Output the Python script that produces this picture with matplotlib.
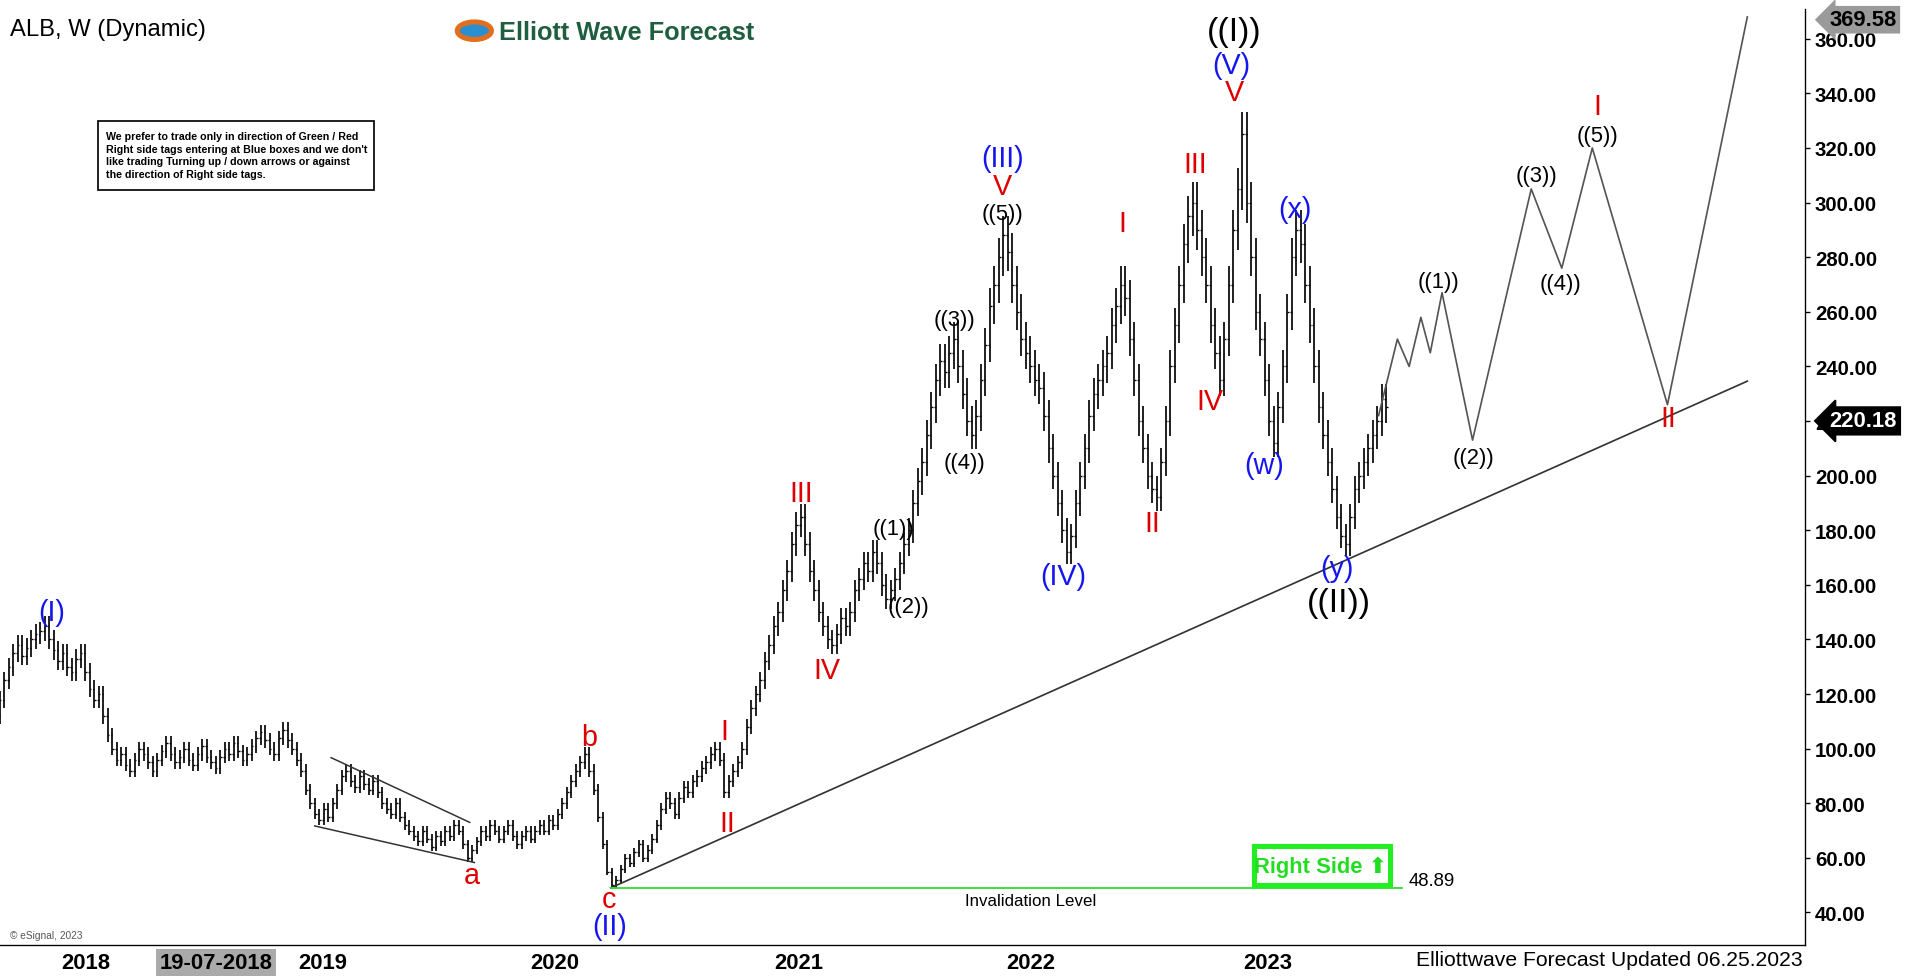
import matplotlib
matplotlib.use('Agg')
import matplotlib.pyplot as plt
from matplotlib.patches import Circle, Rectangle
import numpy as np

plt.rcParams['font.family'] = ['Liberation Sans', 'DejaVu Sans']

# weekly closes, ALB, from Aug 2017
closes = [112, 118, 125, 130, 135, 138, 134, 137, 140, 142, 143,
          145, 140, 136, 132, 135, 130, 128, 133, 135,
          128, 122, 118, 120, 112, 105, 100, 96,
          98, 94, 92, 96, 100, 98, 95, 92, 96, 99, 102, 98, 95,
          97, 100, 96, 94, 98, 101, 97, 95, 93, 97, 100, 98, 102, 99, 96,
          98, 101, 104, 106, 103, 100, 98, 104, 107, 103, 100, 96,
          92, 85, 80, 76, 74, 78, 75, 80,
          85, 90, 92, 88, 86, 90, 87, 85, 88,
          84, 80, 78, 76, 80, 75, 72, 70, 68, 66, 70,
          67, 64, 68, 66, 70, 68, 72, 70, 65, 60, 63,
          66, 70, 68, 72, 70, 67, 70, 72, 68, 65, 68, 70, 67, 70,
          72, 70, 74, 72, 76, 80, 84, 88, 92, 95,
          98, 92, 85, 75, 65, 55, 50,
          52, 56, 60, 58, 62, 65, 60, 63,
          67, 72, 78, 82, 80, 76, 82, 86, 84, 88, 90, 93, 95,
          98, 100, 96, 84, 88,
          92, 95, 100, 108, 115, 120, 125, 132, 138, 145, 150, 158,
          165, 175, 182, 185, 175,
          165, 158, 150, 145, 140, 138, 142, 148, 145, 150,
          158, 162, 168, 165, 172, 168, 160, 155, 158,
          162, 168, 175, 180, 190, 198, 205, 215,
          225, 235, 242, 238, 245, 250, 240, 230, 220,
          215, 222, 235, 248, 262, 270, 280,
          288, 282, 270, 260, 250, 245, 240, 235,
          232, 222, 210, 200, 190, 180, 172,
          178, 190, 200, 210, 222, 230, 235,
          240, 245, 255, 262, 270, 265,
          250, 235, 220, 210, 200, 195, 192,
          205, 220, 240, 255, 270, 285, 295, 300,
          290, 280, 270, 255, 245, 235,
          250, 270, 290, 305, 325,
          300, 280, 260, 250, 235, 220, 212,
          225, 240, 260, 280, 290, 285,
          270, 255, 240, 225, 215, 205, 195, 185, 178, 175,
          185, 195, 200, 205, 210, 215, 220, 228, 225]

# projected path (fractional year, price)
proj_x = [2023.47, 2023.55, 2023.60, 2023.65, 2023.69, 2023.74, 2023.87, 2024.12, 2024.25, 2024.38, 2024.70, 2025.04]
proj_y = [222, 250, 240, 258, 245, 267, 213, 305, 276, 320, 226, 368]

trend_x = [2020.20, 2025.04]
trend_y = [49, 234.6]
inval_level = 48.89
tri_upper = ([2019.01, 2019.60], [96.7, 73])
tri_lower = ([2018.94, 2019.62], [71.7, 58.3])

# drawn on a 1568 x 804.5 layout grid, saved at 1912 x 981
W, H = 1568, 804.5
fig = plt.figure(figsize=(W / 100, H / 100), dpi=100)
ax = fig.add_axes([0, (H - 776) / H, 1480 / W, (776 - 8) / H])

n = len(closes)
xs = 2017.58 + np.arange(n) / 52.18
c = np.array(closes, float)
o = np.concatenate([[c[0]], c[:-1]])
hi = np.maximum(o, c) * 1.025
lo = np.minimum(o, c) * 0.975
ax.vlines(xs, lo, hi, color='black', lw=1.0)
ax.hlines(c, xs, xs + 0.007, color='black', lw=0.8)
ax.hlines(o, xs - 0.007, xs, color='black', lw=0.8)

ax.plot(proj_x, proj_y, color='#555555', lw=1.0)
ax.plot(trend_x, trend_y, color='#333333', lw=1.0)
ax.plot(*tri_upper, color='#333333', lw=0.9)
ax.plot(*tri_lower, color='#333333', lw=0.9)
ax.plot([2020.2, 2023.57], [inval_level] * 2, color='#33dd33', lw=1.1)
ax.text(2023.6, inval_level + 3, f"{inval_level:.2f}", fontsize=11, va='center')
ax.text(2021.99, 44.5, "Invalidation Level", fontsize=10, ha='center', va='center')

ax.set_xlim(2017.6, 2017.6 + 1480 / 192.6)
ax.set_ylim(28, 371)
ax.yaxis.tick_right()
ax.set_yticks(np.arange(40, 361, 20))
ax.set_yticklabels([f"{v:.2f}" for v in np.arange(40, 361, 20)], fontsize=12, fontweight='bold')
ax.tick_params(axis='y', length=3, pad=3)
ax.set_xticks([])
for s in ['top', 'left']:
    ax.spines[s].set_visible(False)

def ftxt(x, y, s, **kw):
    fig.text(x / W, 1 - y / H, s, ha=kw.pop('ha', 'center'), va=kw.pop('va', 'center'), **kw)

BLUE, RED = '#1515ee', '#dd0000'
waves = [
    (42, 503, "(I)", BLUE, 17), (387, 718, "a", RED, 17), (483, 605, "b", RED, 17),
    (499, 738, "c", RED, 17), (500, 760, "(II)", BLUE, 17), (594, 600, "I", RED, 17),
    (596, 676, "II", RED, 17), (657, 405, "III", RED, 17), (678, 550, "IV", RED, 17),
    (733, 434, "((1))", 'black', 13), (745, 498, "((2))", 'black', 13),
    (783, 263, "((3))", 'black', 13), (791, 380, "((4))", 'black', 13),
    (822, 176, "((5))", 'black', 13), (822, 153, "V", RED, 17), (822, 130, "(III)", BLUE, 17),
    (872, 473, "(IV)", BLUE, 17), (920, 184, "I", RED, 17), (945, 430, "II", RED, 17),
    (980, 135, "III", RED, 17), (992, 330, "IV", RED, 17), (1012, 76, "V", RED, 17),
    (1010, 54, "(V)", BLUE, 17), (1012, 27, "((I))", 'black', 20),
    (1037, 382, "(w)", BLUE, 17), (1062, 172, "(x)", BLUE, 17), (1096, 467, "(y)", BLUE, 17),
    (1098, 495, "((II))", 'black', 20),
    (1180, 232, "((1))", 'black', 13), (1208, 376, "((2))", 'black', 13),
    (1260, 145, "((3))", 'black', 13), (1280, 233, "((4))", 'black', 13),
    (1310, 112, "((5))", 'black', 13), (1310, 88, "I", RED, 17), (1368, 344, "II", RED, 17),
]
for x, y, s, col, fs in waves:
    ftxt(x, y, s, color=col, fontsize=fs)

# header
ftxt(8, 25, "ALB, W (Dynamic)", fontsize=14, ha='left')
fig.patches.append(Circle((389 / W, 1 - 26 / H), 14 / W, transform=fig.transFigure,
                          facecolor='#2a8fd0', edgecolor='#e07020', lw=3))
ftxt(409, 27, "Elliott Wave Forecast", fontsize=15, fontweight='bold', color='#1f5f3f', ha='left')
fig.patches.append(Rectangle((80 / W, 1 - 157 / H), 227 / W, 57 / H, transform=fig.transFigure,
                             facecolor='white', edgecolor='black', lw=1))
ftxt(87, 128, "We prefer to trade only in direction of Green / Red\nRight side tags entering at Blue boxes and we don't\n"
     "like trading Turning up / down arrows or against\nthe direction of Right side tags.",
     fontsize=6.3, fontweight='bold', ha='left', linespacing=1.35)

# right side tag
fig.patches.append(Rectangle((1028 / W, 1 - 727 / H), 112 / W, 32 / H, transform=fig.transFigure,
                             facecolor='white', edgecolor='#22ee22', lw=3))
ftxt(1083, 711, "Right Side \u2b06", fontsize=13, fontweight='bold', color='#22dd22')

# price boxes
ftxt(1528, 17, "369.58", fontsize=13, fontweight='bold', color='black',
     bbox=dict(boxstyle='larrow,pad=0.15', facecolor='#9a9a9a', edgecolor='none'))
ftxt(1528, 346, "220.18", fontsize=13, fontweight='bold', color='white',
     bbox=dict(boxstyle='larrow,pad=0.15', facecolor='black', edgecolor='black'))

# year labels
for x, s in [(70, "2018"), (265, "2019"), (455, "2020"), (655, "2021"), (845, "2022"), (1040, "2023")]:
    ftxt(x, 790, s, fontsize=13, fontweight='bold')
ftxt(177, 790, "19-07-2018", fontsize=13, fontweight='bold',
     bbox=dict(boxstyle='square,pad=0.15', facecolor='#aaaaaa', edgecolor='none'))
ftxt(8, 768, "\u00a9 eSignal, 2023", fontsize=6, ha='left', color='#555555')
ftxt(1478, 788, "Elliottwave Forecast Updated 06.25.2023", fontsize=12.5, ha='right')

fig.savefig('out.png', dpi=100 * 1912 / W, facecolor='white')
